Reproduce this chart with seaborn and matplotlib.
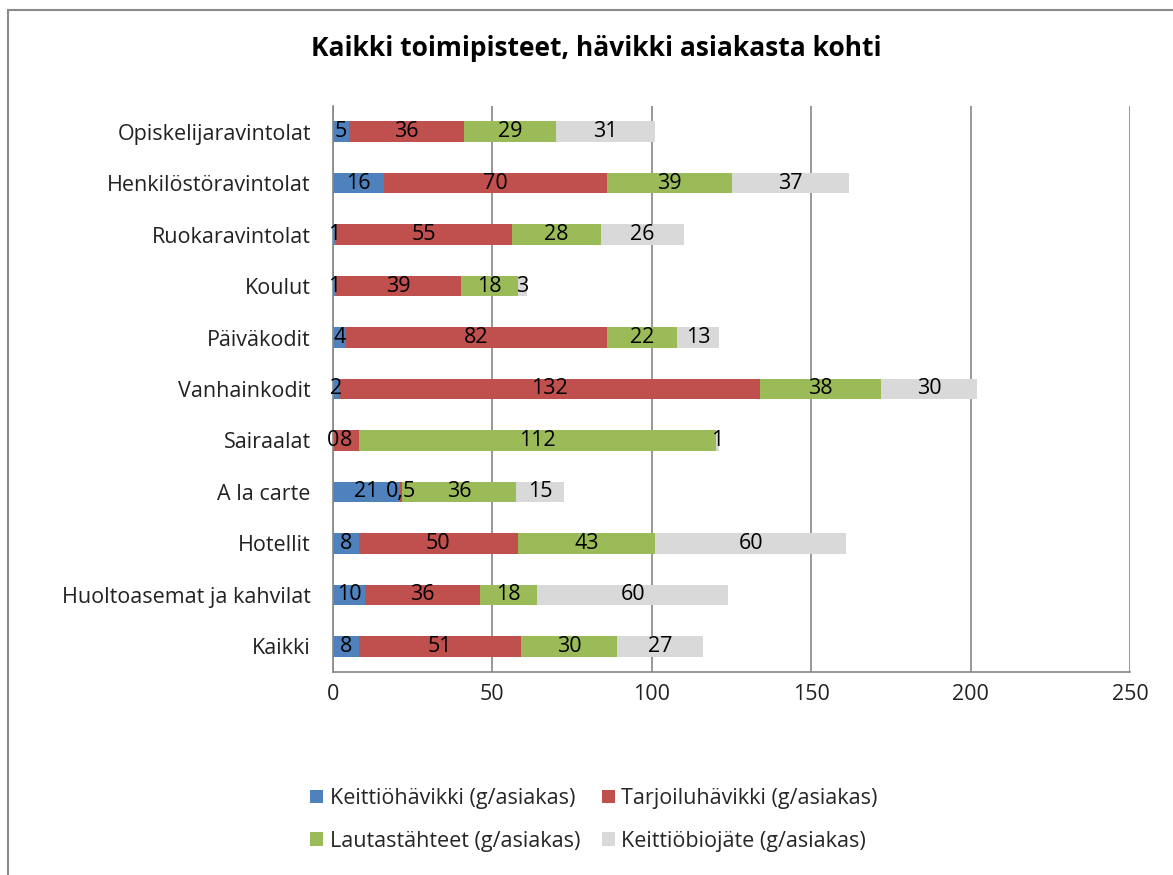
import numpy as np
import pandas as pd
import seaborn as sns
import matplotlib.pyplot as plt
from matplotlib.patches import Patch
from matplotlib.lines import Line2D

categories = ["Opiskelijaravintolat", "Henkilöstöravintolat", "Ruokaravintolat",
              "Koulut", "Päiväkodit", "Vanhainkodit", "Sairaalat", "A la carte",
              "Hotellit", "Huoltoasemat ja kahvilat", "Kaikki"]
keittiohavikki = [5, 16, 1, 1, 4, 2, 0, 21, 8, 10, 8]
tarjoiluhavikki = [36, 70, 55, 39, 82, 132, 8, 0.5, 50, 36, 51]
lautastahteet = [29, 39, 28, 18, 22, 38, 112, 36, 43, 18, 30]
keittiobiojate = [31, 37, 26, 3, 13, 30, 1, 15, 60, 60, 27]

series_names = ["Keittiöhävikki (g/asiakas)", "Tarjoiluhävikki (g/asiakas)",
                "Lautastähteet (g/asiakas)", "Keittiöbiojäte (g/asiakas)"]
colors = ["#4F81BD", "#C0504D", "#9BBB59", "#D9D9D9"]
x_ticks = [0, 50, 100, 150, 200, 250]
title = "Kaikki toimipisteet, hävikki asiakasta kohti"

sns.set_style("white")
plt.rcParams['font.family'] = ['Open Sans', 'DejaVu Sans']

df = pd.DataFrame({"kategoria": categories,
                   series_names[0]: keittiohavikki,
                   series_names[1]: tarjoiluhavikki,
                   series_names[2]: lautastahteet,
                   series_names[3]: keittiobiojate})
cum = df[series_names].cumsum(axis=1)

fig = plt.figure(figsize=(11.73, 8.75), dpi=100)
ax = fig.add_axes([333 / 1173, 1 - 672 / 875, (1130 - 333) / 1173, (672 - 106) / 875])

# stacked bars: draw cumulative totals from the widest down
for name, col in reversed(list(zip(series_names, colors))):
    sns.barplot(x=cum[name], y=df["kategoria"], orient="h", color=col,
                width=0.4, saturation=1, linewidth=0, ax=ax)

# data labels in the middle of each segment
for i in range(len(categories)):
    left = 0
    for name in series_names:
        v = df[name].iloc[i]
        txt = f"{v:g}".replace(".", ",")
        ax.text(left + v / 2, i, txt, ha="center", va="center",
                fontsize=15.5, color="black")
        left += v

ax.set_xlim(0, 250)
ax.set_ylim(len(categories) - 0.5, -0.5)
ax.set_xticks(x_ticks)
ax.set_xlabel("")
ax.set_ylabel("")
ax.set_axisbelow(True)
ax.xaxis.grid(True, color="#868686", linewidth=1.2)
ax.yaxis.grid(False)

for s in ["top", "right"]:
    ax.spines[s].set_visible(False)
for s in ["left", "bottom"]:
    ax.spines[s].set_color("#868686")
    ax.spines[s].set_linewidth(1.2)

ax.set_yticks(np.arange(-0.5, len(categories), 1), minor=True)
ax.tick_params(axis="y", which="major", length=0, pad=16, labelsize=15.5, labelcolor="#222222")
ax.tick_params(axis="y", which="minor", length=5, width=1.2, color="#868686", direction="out")
ax.tick_params(axis="x", which="major", length=5, width=1.2, color="#868686", direction="out",
               pad=4, labelsize=15.5, labelcolor="#222222")

fig.text(596 / 1173, 1 - 48 / 875, title, ha="center", va="center",
         fontsize=19, fontweight="bold", color="black")

handles = [Patch(facecolor=c, edgecolor="none") for c in colors]
order = [0, 2, 1, 3]
fig.legend([handles[k] for k in order], [series_names[k] for k in order],
           loc="center", bbox_to_anchor=(594 / 1173, 1 - 820 / 875), ncol=2,
           frameon=False, fontsize=15.5, handlelength=0.6, handleheight=0.6,
           handletextpad=0.3, columnspacing=1.0, labelspacing=1.0)

# chart border (left and top edges visible in the crop)
fig.add_artist(Line2D([8 / 1173, 8 / 1173], [0, 1 - 10 / 875], color="#8a8a8a", lw=1.5))
fig.add_artist(Line2D([8 / 1173, 1], [1 - 10 / 875, 1 - 10 / 875], color="#8a8a8a", lw=1.5))

fig.savefig("out.png", dpi=100)
